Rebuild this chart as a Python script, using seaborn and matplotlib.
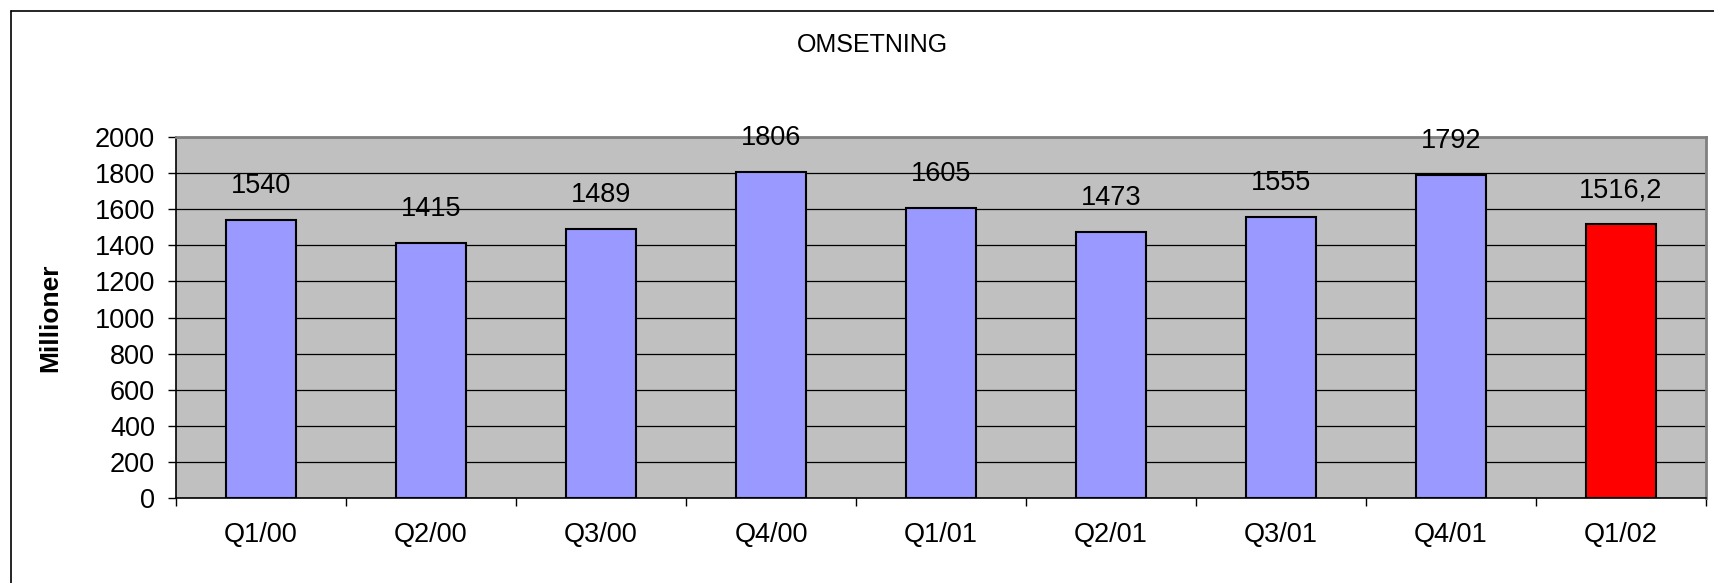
import matplotlib
matplotlib.use("Agg")
import matplotlib.pyplot as plt
from matplotlib.lines import Line2D
import seaborn as sns
import pandas as pd

# data
quarters = ["Q1/00", "Q2/00", "Q3/00", "Q4/00", "Q1/01", "Q2/01", "Q3/01", "Q4/01", "Q1/02"]
omsetning = [1540, 1415, 1489, 1806, 1605, 1473, 1555, 1792, 1516.2]
value_labels = ["1540", "1415", "1489", "1806", "1605", "1473", "1555", "1792", "1516,2"]
bar_colors = ["#9999FF"] * 8 + ["#FF0000"]
yticks = list(range(0, 2001, 200))

sns.set_theme(style="white")
plt.rcParams["font.family"] = ["Liberation Sans", "DejaVu Sans"]
plt.rcParams.update({"text.color": "black", "axes.labelcolor": "black",
                     "xtick.color": "black", "ytick.color": "black"})

df = pd.DataFrame({"kvartal": quarters, "verdi": omsetning})

fig = plt.figure(figsize=(17.14, 5.83), dpi=100)
ax = fig.add_axes([176 / 1714, 85 / 583, 1530 / 1714, 361 / 583])
ax.set_facecolor("#C0C0C0")

sns.barplot(data=df, x="kvartal", y="verdi", hue="kvartal", palette=bar_colors,
            width=0.41, legend=False, edgecolor="black", linewidth=1.5,
            saturation=1, ax=ax, zorder=3)

ax.set_ylim(0, 2000)
ax.set_xlim(-0.5, len(quarters) - 0.5)
ax.set_yticks(yticks)
ax.yaxis.grid(True, color="black", linewidth=0.9, zorder=0)
ax.set_axisbelow(True)

# category boundary ticks (major) and centered labels (minor)
ax.set_xticks([i - 0.5 for i in range(len(quarters) + 1)])
ax.set_xticklabels([])
ax.set_xticks(range(len(quarters)), minor=True)
ax.set_xticklabels(quarters, minor=True)
ax.tick_params(axis="x", which="major", direction="out", length=6, width=1, bottom=True)
ax.tick_params(axis="x", which="minor", length=0, pad=17, labelsize=19.5)
ax.tick_params(axis="y", direction="out", length=6, width=1, left=True, pad=9, labelsize=19.5)

for s in ["left", "bottom"]:
    ax.spines[s].set_color("black")
    ax.spines[s].set_linewidth(1.2)
for s in ["top", "right"]:
    ax.spines[s].set_color("#808080")
    ax.spines[s].set_linewidth(2)

ax.set_xlabel("")
ax.set_ylabel("Millioner", fontsize=19, fontweight="bold")
ax.yaxis.set_label_coords(-0.0745, 0.5)

for i, (v, lab) in enumerate(zip(omsetning, value_labels)):
    ax.annotate(lab, (i, v), xytext=(0, 24.5), textcoords="offset points",
                ha="center", va="center", fontsize=19.5, zorder=4)

fig.text(872 / 1714, 1 - 45 / 583, "OMSETNING", ha="center", va="center", fontsize=18)

# outer chart frame (left and top edges visible)
fig.add_artist(Line2D([11 / 1714, 11 / 1714], [0, 1 - 11 / 583], transform=fig.transFigure,
                      color="black", linewidth=1.2))
fig.add_artist(Line2D([11 / 1714, 1], [1 - 11 / 583, 1 - 11 / 583], transform=fig.transFigure,
                      color="black", linewidth=1.2))

fig.savefig("out.png", dpi=100, facecolor="white")
